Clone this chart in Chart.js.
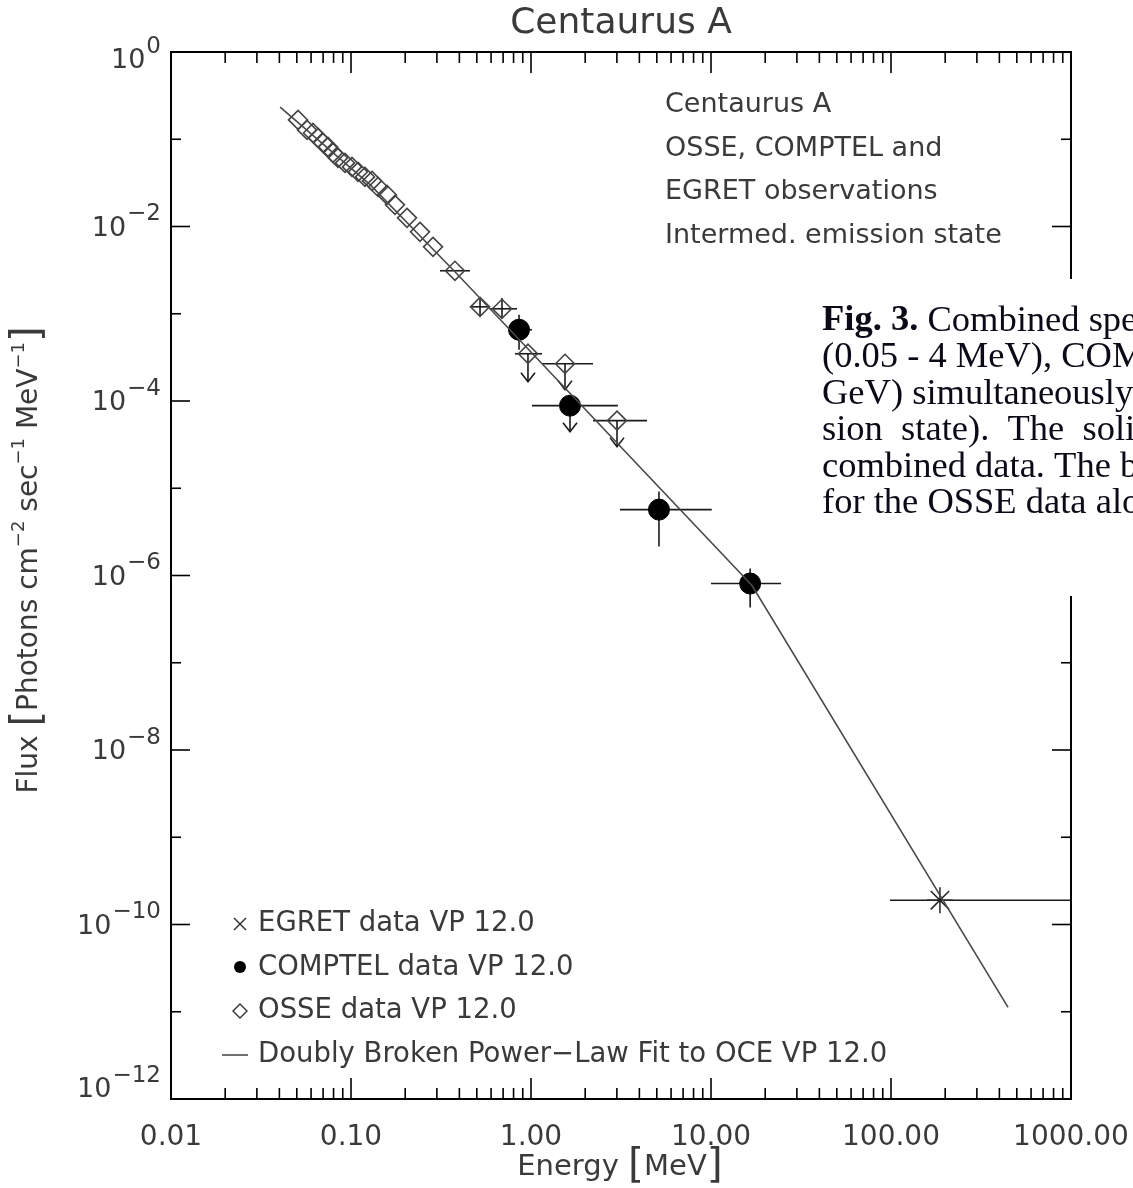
<!DOCTYPE html>
<html>
<head>
<meta charset="utf-8">
<script src="https://cdn.jsdelivr.net/npm/chart.js@4.4.0/dist/chart.umd.min.js"></script>
<style>
  html, body { margin: 0; padding: 0; background: #fff; overflow: hidden; }
  #wrap { width: 1133px; height: 1188px; position: relative; }
</style>
</head>
<body>
<div id="wrap"><canvas id="specChart"></canvas></div>
<script>
// Centaurus A - OSSE, COMPTEL and EGRET spectrum, VP 12.0

// OSSE points (diamonds), energies in MeV, flux in ph cm^-2 s^-1 MeV^-1
const osseE   = [0.0508, 0.0570, 0.0615, 0.0656, 0.0699, 0.0745, 0.0794, 0.0847, 0.0926, 0.1013,
                 0.1094, 0.1196, 0.1309, 0.1413, 0.1585, 0.1755, 0.2048, 0.2417, 0.2855, 0.378,
                 0.521, 0.690, 0.962, 1.545, 3.005];
const osseF   = [0.1665, 0.1279, 0.1181, 0.1036, 0.0908, 0.0817, 0.0698, 0.0611, 0.0536, 0.0482,
                 0.0423, 0.0370, 0.0333, 0.0284, 0.0230, 0.0177, 0.01257, 0.00869, 0.00585, 0.00311,
                 0.00120, 0.00114, 3.48e-4, 2.67e-4, 5.96e-5];
const osseElo = [null, null, null, null, null, null, null, null, null, null,
                 null, null, null, null, null, null, null, null, null, 0.312,
                 0.458, 0.591, 0.815, 1.151, 2.21];
const osseEhi = [null, null, null, null, null, null, null, null, null, null,
                 null, null, null, null, null, null, null, null, null, 0.458,
                 0.591, 0.836, 1.151, 2.21, 4.41];
const osseFlo = [null, null, null, null, null, null, null, null, null, null,
                 null, null, null, null, null, null, null, null, null, null,
                 9.24e-4, 9.0e-4, 1.66e-4, 1.35e-4, 3.0e-5];
const osseFhi = [null, null, null, null, null, null, null, null, null, null,
                 null, null, null, null, null, null, null, null, null, null,
                 1.56e-3, 1.52e-3, null, null, null];
const osseUL  = [false, false, false, false, false, false, false, false, false, false,
                 false, false, false, false, false, false, false, false, false, false,
                 false, false, true, true, true];

// COMPTEL points (filled circles)
const comptelE   = [0.858, 1.647, 5.14, 16.5];
const comptelF   = [6.56e-4, 8.84e-5, 5.69e-6, 8.09e-7];
const comptelElo = [0.745, 1.013, 3.12, 10.0];
const comptelEhi = [1.013, 3.04, 10.1, 24.5];
const comptelFlo = [3.87e-4, 4.45e-5, 2.15e-6, 4.3e-7];
const comptelFhi = [9.73e-4, null, 9.16e-6, 1.2e-6];
const comptelUL  = [false, true, false, false];

// EGRET point (star)
const egretE   = [187];
const egretF   = [1.9e-10];
const egretElo = [98.7];
const egretEhi = [10000];
const egretFlo = [null];
const egretFhi = [null];
const egretUL  = [false];

// doubly broken power-law fit, vertices
const fitE = [0.0404, 0.128, 0.378, 16.9, 447];
const fitF = [0.234, 0.030, 3.03e-3, 7.68e-7, 1.12e-11];

// axis labels
const xTickVals   = [0.01, 0.1, 1, 10, 100, 1000];
const xTickLabels = ['0.01', '0.10', '1.00', '10.00', '100.00', '1000.00'];
const yTickExps   = [0, -2, -4, -6, -8, -10, -12];

const legendItems = ['EGRET data VP 12.0', 'COMPTEL data VP 12.0', 'OSSE data VP 12.0',
                     'Doubly Broken Power\u2212Law Fit to OCE VP 12.0'];
const noteLines   = ['Centaurus A', 'OSSE, COMPTEL and', 'EGRET observations', 'Intermed. emission state'];
const captionLines = [
    [['Fig. 3.', true], [' Combined spectrum', false]],
    [['(0.05 - 4 MeV), COMPTEL', false]],
    [['GeV) simultaneously', false]],
    [['sion  state).  The  solid', false]],
    [['combined data. The b', false]],
    [['for the OSSE data alone', false]]
];

const FONT = '"DejaVu Sans", sans-serif';
const INK = '#3a3a3a';

function pts(xs, ys) {
    return xs.map((x, i) => ({ x: x, y: ys[i] }));
}

function seg(ctx, x1, y1, x2, y2) {
    ctx.beginPath();
    ctx.moveTo(x1, y1);
    ctx.lineTo(x2, y2);
    ctx.stroke();
}

function drawErrors(ctx, sx, sy, E, F, Elo, Ehi, Flo, Fhi, UL) {
    for (let i = 0; i < E.length; i++) {
        const x = sx.getPixelForValue(E[i]);
        const y = sy.getPixelForValue(F[i]);
        if (Elo[i] != null) {
            seg(ctx, sx.getPixelForValue(Elo[i]), y, sx.getPixelForValue(Ehi[i]), y);
        }
        if (UL[i]) {
            const y2 = sy.getPixelForValue(Flo[i]);
            seg(ctx, x, y, x, y2);
            ctx.beginPath();
            ctx.moveTo(x - 7, y2 - 9);
            ctx.lineTo(x, y2);
            ctx.lineTo(x + 7, y2 - 9);
            ctx.stroke();
        } else if (Flo[i] != null) {
            seg(ctx, x, sy.getPixelForValue(Flo[i]), x, sy.getPixelForValue(Fhi[i]));
        }
    }
}

// draws a row of [text, size, raise] pieces centred on (0, 0)
function richText(ctx, parts) {
    let w = 0;
    parts.forEach(p => { ctx.font = p[1] + 'px ' + FONT; w += ctx.measureText(p[0]).width; });
    let x = -w / 2;
    parts.forEach(p => {
        ctx.font = p[1] + 'px ' + FONT;
        ctx.fillText(p[0], x, -(p[2] || 0));
        x += ctx.measureText(p[0]).width;
    });
}

const specPlugin = {
    id: 'specPlugin',
    beforeDatasetsDraw(chart) {
        const ctx = chart.ctx, sx = chart.scales.x, sy = chart.scales.y, a = chart.chartArea;
        ctx.save();
        ctx.beginPath();
        ctx.rect(a.left, a.top, a.right - a.left, a.bottom - a.top);
        ctx.clip();
        ctx.strokeStyle = '#1a1a1a';
        ctx.lineWidth = 1.6;
        drawErrors(ctx, sx, sy, osseE, osseF, osseElo, osseEhi, osseFlo, osseFhi, osseUL);
        drawErrors(ctx, sx, sy, comptelE, comptelF, comptelElo, comptelEhi, comptelFlo, comptelFhi, comptelUL);
        drawErrors(ctx, sx, sy, egretE, egretF, egretElo, egretEhi, egretFlo, egretFhi, egretUL);
        ctx.restore();
    },
    afterDraw(chart) {
        const ctx = chart.ctx, sx = chart.scales.x, sy = chart.scales.y, a = chart.chartArea;
        ctx.save();

        // frame
        ctx.strokeStyle = '#000';
        ctx.lineWidth = 2;
        ctx.strokeRect(a.left, a.top, a.right - a.left, a.bottom - a.top);

        // inward ticks, x axis
        ctx.lineWidth = 1.6;
        for (let d = -2; d <= 2; d++) {
            for (let m = 1; m <= 9; m++) {
                const v = m * Math.pow(10, d);
                if (v <= 0.01 || v >= 1000) continue;
                const x = sx.getPixelForValue(v);
                const len = m === 1 ? 21 : 11;
                seg(ctx, x, a.bottom, x, a.bottom - len);
                seg(ctx, x, a.top, x, a.top + len);
            }
        }
        // inward ticks, y axis (decades only)
        for (let e = -11; e <= -1; e++) {
            const y = sy.getPixelForValue(Math.pow(10, e));
            const len = e % 2 === 0 ? 19 : 10;
            seg(ctx, a.left, y, a.left + len, y);
            seg(ctx, a.right, y, a.right - len, y);
        }

        ctx.fillStyle = INK;
        ctx.textBaseline = 'middle';

        // x tick labels
        ctx.textAlign = 'center';
        ctx.font = '28px ' + FONT;
        xTickVals.forEach((v, i) => {
            ctx.fillText(xTickLabels[i], sx.getPixelForValue(v), 1138);
        });

        // y tick labels 10^n
        ctx.textAlign = 'right';
        yTickExps.forEach(e => {
            const y = sy.getPixelForValue(Math.pow(10, e));
            const yy = y + (e === 0 ? 9 : (e === -12 ? -9 : 2));
            const ex = e === 0 ? '0' : '\u2212' + Math.abs(e);
            ctx.font = '23px ' + FONT;
            const ew = ctx.measureText(ex).width;
            ctx.fillText(ex, 161, yy - 14);
            ctx.font = '27px ' + FONT;
            ctx.fillText('10', 161 - ew - 1, yy);
        });

        // title
        ctx.textAlign = 'center';
        ctx.font = '36px ' + FONT;
        ctx.fillText('Centaurus A', 621, 24);

        // x axis title
        ctx.save();
        ctx.translate(620, 1167);
        ctx.textAlign = 'left';
        richText(ctx, [['Energy ', 29], ['[', 41, 1], ['MeV', 29], [']', 41, 1]]);
        ctx.restore();

        // y axis title
        ctx.save();
        ctx.translate(30, 560);
        ctx.rotate(-Math.PI / 2);
        ctx.textAlign = 'left';
        richText(ctx, [['Flux ', 28], ['[', 40, 1], ['Photons cm', 28], ['\u22122', 18, 11],
                       [' sec', 28], ['\u22121', 18, 11], [' MeV', 28], ['\u22121', 18, 11], [']', 40, 1]]);
        ctx.restore();

        // note in upper right
        ctx.textAlign = 'left';
        ctx.font = '27px ' + FONT;
        noteLines.forEach((t, i) => ctx.fillText(t, 665, 105 + i * 43.5));

        // legend, lower left
        ctx.font = '27.5px ' + FONT;
        const ly = [924, 968, 1011, 1055];
        legendItems.forEach((t, i) => ctx.fillText(t, 258, ly[i]));
        ctx.strokeStyle = '#333';
        ctx.lineWidth = 1.4;
        seg(ctx, 234, ly[0] - 6, 246, ly[0] + 6);
        seg(ctx, 234, ly[0] + 6, 246, ly[0] - 6);
        ctx.fillStyle = '#000';
        ctx.beginPath();
        ctx.arc(240, ly[1] - 1, 6, 0, Math.PI * 2);
        ctx.fill();
        ctx.beginPath();
        ctx.moveTo(240, ly[2] - 7);
        ctx.lineTo(247, ly[2]);
        ctx.lineTo(240, ly[2] + 7);
        ctx.lineTo(233, ly[2]);
        ctx.closePath();
        ctx.stroke();
        seg(ctx, 222, ly[3], 248, ly[3]);

        // pasted caption block over the right edge
        ctx.fillStyle = '#fff';
        ctx.fillRect(796, 279, 1133 - 796, 317);
        ctx.fillStyle = '#0b0b18';
        ctx.textAlign = 'left';
        captionLines.forEach((line, i) => {
            let x = 822;
            line.forEach(p => {
                ctx.font = (p[1] ? 'bold ' : '') + '36.5px "Liberation Serif", "DejaVu Serif", serif';
                ctx.fillText(p[0], x, 321 + i * 36.5);
                x += ctx.measureText(p[0]).width;
            });
        });

        ctx.restore();
    }
};

const ctxSpec = document.getElementById('specChart').getContext('2d');
new Chart(ctxSpec, {
    type: 'scatter',
    data: {
        datasets: [
            {
                label: 'Fit',
                data: pts(fitE, fitF),
                showLine: true,
                borderColor: '#4a4a4a',
                borderWidth: 1.6,
                pointRadius: 0
            },
            {
                label: 'OSSE',
                data: pts(osseE, osseF),
                pointStyle: 'rectRot',
                pointRadius: 9.5,
                borderColor: '#444',
                borderWidth: 1.6,
                backgroundColor: 'rgba(0,0,0,0)'
            },
            {
                label: 'COMPTEL',
                data: pts(comptelE, comptelF),
                pointStyle: 'circle',
                pointRadius: 10.5,
                borderColor: '#000',
                backgroundColor: '#000'
            },
            {
                label: 'EGRET',
                data: pts(egretE, egretF),
                pointStyle: 'star',
                pointRadius: 13,
                borderColor: '#222',
                borderWidth: 1.5
            }
        ]
    },
    options: {
        responsive: true,
        maintainAspectRatio: false,
        animation: false,
        devicePixelRatio: 1,
        layout: { padding: { top: 52, right: 62, left: 0, bottom: 0 } },
        plugins: {
            legend: { display: false },
            tooltip: { enabled: false }
        },
        scales: {
            x: {
                type: 'logarithmic',
                min: 0.01,
                max: 1000,
                ticks: { display: false },
                grid: { display: false },
                border: { display: false },
                afterFit: s => { s.height = 89; }
            },
            y: {
                type: 'logarithmic',
                min: 1e-12,
                max: 1,
                ticks: { display: false },
                grid: { display: false },
                border: { display: false },
                afterFit: s => { s.width = 171; }
            }
        }
    },
    plugins: [specPlugin]
});
</script>
</body>
</html>
